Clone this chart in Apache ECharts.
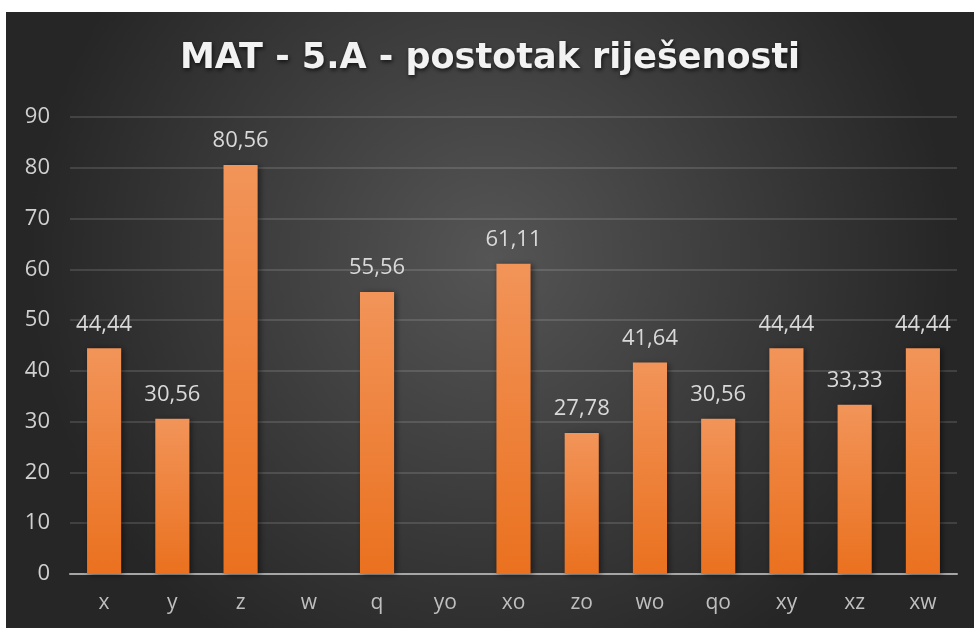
<!DOCTYPE html>
<html>
<head>
<meta charset="utf-8">
<script src="https://cdn.jsdelivr.net/npm/echarts@6/dist/echarts.min.js"></script>
<style>
html,body{margin:0;padding:0;background:#fff;width:974px;height:628px;overflow:hidden;}
#c{position:absolute;left:6px;top:12px;width:968px;height:616px;}
</style>
</head>
<body>
<div id="c"></div>
<script>
const titleText = 'MAT - 5.A - postotak riješenosti';
const categories = ['x','y','z','w','q','yo','xo','zo','wo','qo','xy','xz','xw'];
const values = [44.44, 30.56, 80.56, null, 55.56, null, 61.11, 27.78, 41.64, 30.56, 44.44, 33.33, 44.44];
const yMin = 0, yMax = 90, yStep = 10;

const chart = echarts.init(document.getElementById('c'));
chart.setOption({
  backgroundColor: {
    type: 'radial', x: 0.5, y: 0.4, r: 0.75,
    colorStops: [{offset: 0, color: '#555555'}, {offset: 1, color: '#262626'}]
  },
  title: {
    text: titleText, left: 'center', top: 24,
    textStyle: {
      fontFamily: 'DejaVu Sans', fontSize: 35, fontWeight: 'bold', color: '#f2f2f2',
      textShadowColor: 'rgba(0,0,0,0.7)', textShadowBlur: 4, textShadowOffsetX: 1, textShadowOffsetY: 2
    }
  },
  grid: {left: 64, right: 17, top: 105, bottom: 54, containLabel: false},
  xAxis: {
    type: 'category', data: categories,
    axisLine: {lineStyle: {color: '#a6a6a6', width: 2}},
    axisTick: {show: false},
    axisLabel: {color: '#bfbfbf', fontFamily: 'Open Sans', fontSize: 21, margin: 19}
  },
  yAxis: {
    type: 'value', min: yMin, max: yMax, interval: yStep,
    axisLine: {show: false}, axisTick: {show: false},
    splitLine: {lineStyle: {color: 'rgba(255,255,255,0.17)', width: 1.5}},
    axisLabel: {color: '#d0d0d0', fontFamily: 'Open Sans', fontSize: 22, margin: 20}
  },
  series: [{
    type: 'bar', data: values, barWidth: '50%',
    itemStyle: {
      color: {type: 'linear', x: 0, y: 0, x2: 0, y2: 1,
        colorStops: [{offset: 0, color: '#f29459'}, {offset: 1, color: '#ea711f'}]},
      shadowColor: 'rgba(0,0,0,0.5)', shadowBlur: 6, shadowOffsetX: 2, shadowOffsetY: 1
    },
    label: {
      show: true, position: 'top', distance: 13,
      color: '#d9d9d9', fontFamily: 'Open Sans', fontSize: 22,
      formatter: p => p.value == null ? '' : p.value.toFixed(2).replace('.', ',')
    }
  }]
});
</script>
</body>
</html>
